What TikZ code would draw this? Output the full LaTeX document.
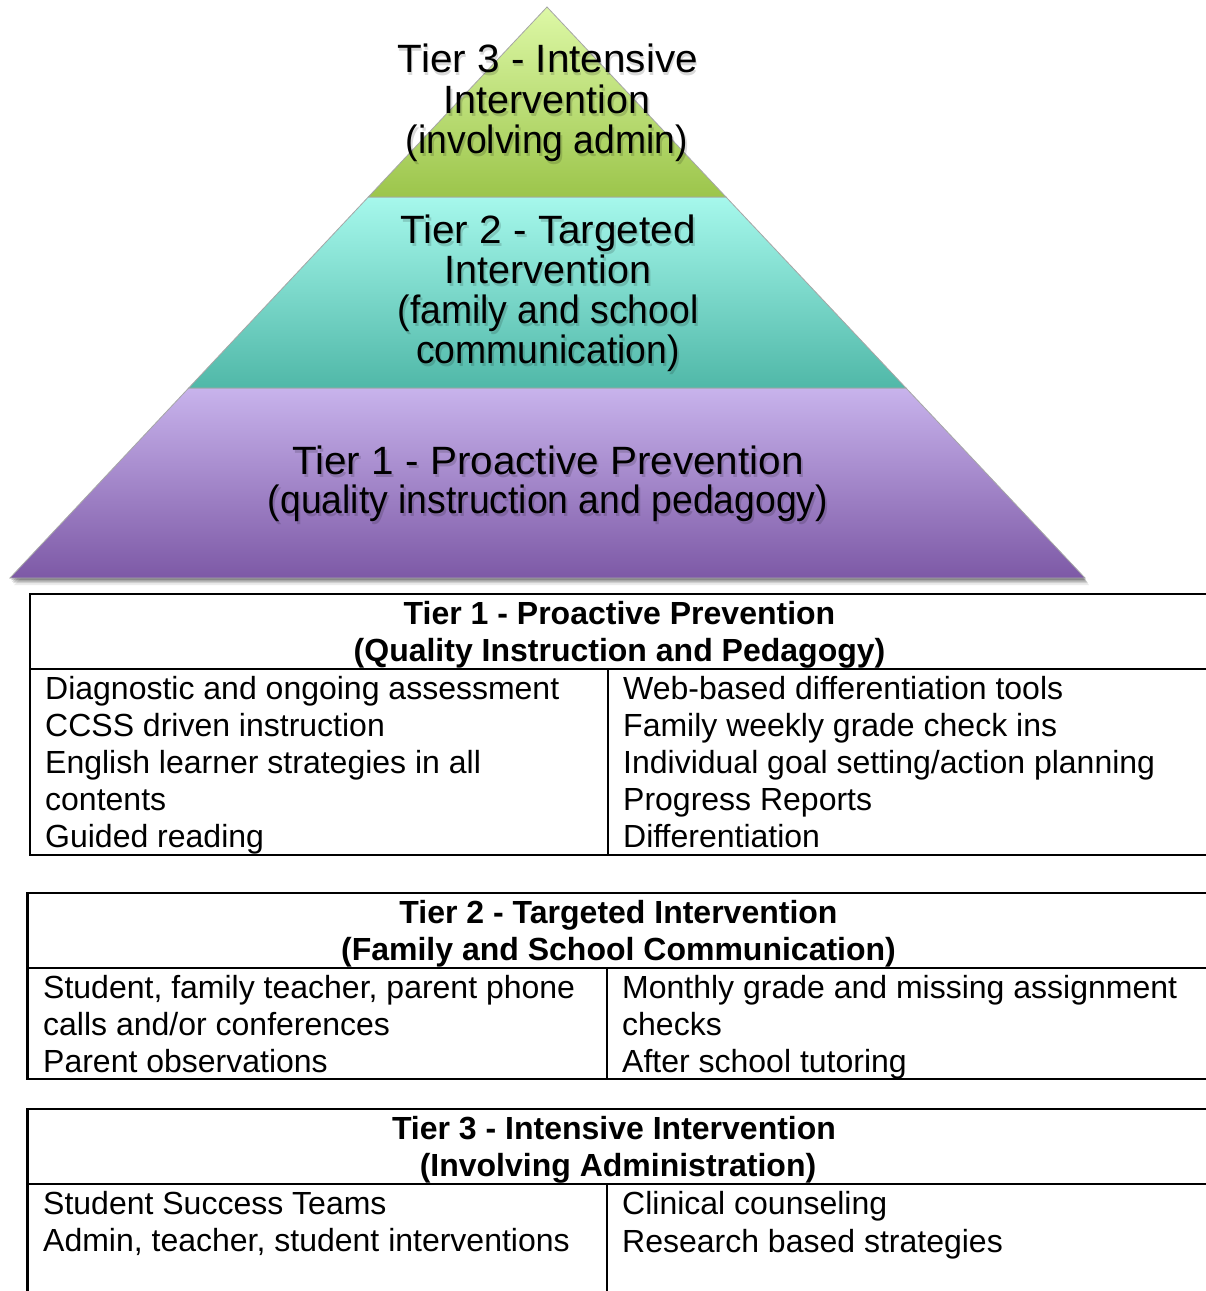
\documentclass[tikz,border=0pt]{standalone}
\usepackage{fontspec}
\setmainfont{Liberation Sans}
\definecolor{tthreetop}{HTML}{DDF8A6}
\definecolor{tthreebot}{HTML}{9CC54B}
\definecolor{ttwotop}{HTML}{A6F8EC}
\definecolor{ttwobot}{HTML}{50B8A8}
\definecolor{tonetop}{HTML}{C8B3EC}
\definecolor{tonebot}{HTML}{7D59A6}
\newcommand{\narrowtxt}[1]{\scalebox{0.945}[1]{#1}}
\newcommand{\widetxt}[1]{\scalebox{1.025}[1]{#1}}
\tikzset{
  pyr/.style={font=\fontsize{39.5}{40}\selectfont, anchor=base, inner sep=0pt, text=black},
  pyrsh/.style={pyr, text=black, opacity=0.15},
  tbl/.style={line width=2.2pt, line join=miter, draw=black},
  cell/.style={font=\fontsize{32}{37}\selectfont, anchor=base west, inner sep=0pt},
  hdr/.style={font=\bfseries\fontsize{32}{37}\selectfont, anchor=base, inner sep=0pt},
  tier/.style={draw=black!35, line width=0.8pt}
}
\begin{document}
\begin{tikzpicture}[x=1pt,y=-1pt]
\useasboundingbox (0,0) rectangle (1206,1291);
\fill[white] (0,0) rectangle (1206,1291);
% pyramid shadow
\foreach \d/\o in {7/0.08,5/0.12,3.5/0.16,2/0.2}{
  \fill[black, opacity=\o] (547+\d*0.4,7+\d) -- (1085+\d*0.6,578+\d) -- (10+\d*0.6,578+\d) -- cycle;
}
% tiers
\path[tier, top color=tonetop, bottom color=tonebot] (188.7,388) -- (906,388) -- (1085,578) -- (10,578) -- cycle;
\path[tier, top color=ttwotop, bottom color=ttwobot] (368.3,197) -- (726,197) -- (906,388) -- (188.7,388) -- cycle;
\path[tier, top color=tthreetop, bottom color=tthreebot] (547,7) -- (726,197) -- (368.3,197) -- cycle;
% pyramid text shadows
\node[pyrsh] (s3a) at (549,75) {\widetxt{Tier 3 - Intensive}};
\node[pyrsh] (s3b) at (549,116) {Intervention};
\node[pyrsh] (s3c) at (549,156) {\narrowtxt{(involving admin)}};
\node[pyrsh] (s2a) at (550,246) {\widetxt{Tier 2 - Targeted}};
\node[pyrsh] (s2b) at (550,286) {Intervention};
\node[pyrsh] (s2c) at (550,326) {\narrowtxt{(family and school}};
\node[pyrsh] (s2d) at (550,366) {\narrowtxt{communication)}};
\node[pyrsh] (s1a) at (550,477) {\widetxt{Tier 1 - Proactive Prevention}};
\node[pyrsh] (s1b) at (550,516) {\narrowtxt{(quality instruction and pedagogy)}};
% pyramid text
\node[pyr] (p3a) at (548,72) {\widetxt{Tier 3 - Intensive}};
\node[pyr] (p3b) at (547,113) {Intervention};
\node[pyr] (p3c) at (547,153) {\narrowtxt{(involving admin)}};
\node[pyr] (p2a) at (548,243) {\widetxt{Tier 2 - Targeted}};
\node[pyr] (p2b) at (548,283) {Intervention};
\node[pyr] (p2c) at (548,323) {\narrowtxt{(family and school}};
\node[pyr] (p2d) at (548,363) {\narrowtxt{communication)}};
\node[pyr] (p1a) at (548,474) {\widetxt{Tier 1 - Proactive Prevention}};
\node[pyr] (p1b) at (548,513) {\narrowtxt{(quality instruction and pedagogy)}};
% table 1
\draw[tbl] (1206,594) -- (30,594) -- (30,855) -- (1206,855);
\draw[tbl] (30,669) -- (1206,669);
\draw[tbl] (608,669) -- (608,855);
\node[hdr] (h1a) at (619.5,624) {Tier 1 - Proactive Prevention};
\node[hdr] (h1b) at (619.5,661) {(Quality Instruction and Pedagogy)};
\node[cell] (a1) at (45,699) {Diagnostic and ongoing assessment};
\node[cell] (a2) at (45,736) {CCSS driven instruction};
\node[cell] (a3) at (45,773) {English learner strategies in all};
\node[cell] (a4) at (45,810) {contents};
\node[cell] (a5) at (45,847) {Guided reading};
\node[cell] (b1) at (623,699) {Web-based differentiation tools};
\node[cell] (b2) at (623,736) {Family weekly grade check ins};
\node[cell] (b3) at (623,773) {Individual goal setting/action planning};
\node[cell] (b4) at (623,810) {Progress Reports};
\node[cell] (b5) at (623,847) {Differentiation};
% table 2
\draw[tbl] (1206,893) -- (27.5,893) -- (27.5,1079) -- (1206,1079);
\draw[tbl] (27.5,968) -- (1206,968);
\draw[tbl] (607,968) -- (607,1079);
\node[hdr] (h2a) at (618.5,923) {Tier 2 - Targeted Intervention};
\node[hdr] (h2b) at (618.5,960) {(Family and School Communication)};
\node[cell] (c1) at (43,998) {Student, family teacher, parent phone};
\node[cell] (c2) at (43,1035) {calls and/or conferences};
\node[cell] (c3) at (43,1072) {Parent observations};
\node[cell] (d1) at (622,998) {Monthly grade and missing assignment};
\node[cell] (d2) at (622,1035) {checks};
\node[cell] (d3) at (622,1072) {After school tutoring};
% table 3
\draw[tbl] (1206,1109) -- (27.5,1109) -- (27.5,1295);
\draw[tbl] (27.5,1184) -- (1206,1184);
\draw[tbl] (607,1184) -- (607,1295);
\node[hdr] (h3a) at (614,1139) {Tier 3 - Intensive Intervention};
\node[hdr] (h3b) at (618,1176) {(Involving Administration)};
\node[cell] (e1) at (43,1214) {Student Success Teams};
\node[cell] (e2) at (43,1251) {Admin, teacher, student interventions};
\node[cell] (f1) at (622,1214) {Clinical counseling};
\node[cell] (f2) at (622,1252) {Research based strategies};
\end{tikzpicture}
\end{document}
